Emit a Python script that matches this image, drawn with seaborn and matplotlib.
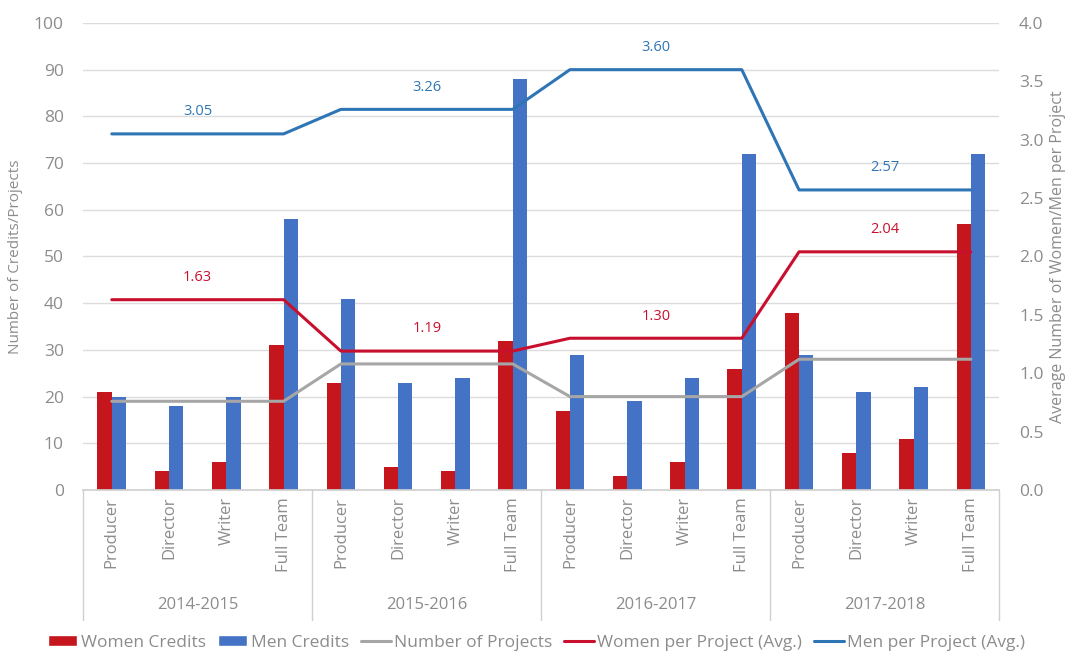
import numpy as np
import pandas as pd
import matplotlib
matplotlib.use("Agg")
import matplotlib.pyplot as plt
import matplotlib.transforms as mtransforms
from matplotlib.patches import Patch
from matplotlib.lines import Line2D
import seaborn as sns

# ---- data ----
seasons = ["2014-2015", "2015-2016", "2016-2017", "2017-2018"]
roles = ["Producer", "Director", "Writer", "Full Team"]
women_credits = [21, 4, 6, 31, 23, 5, 4, 32, 17, 3, 6, 26, 38, 8, 11, 57]
men_credits = [20, 18, 20, 58, 41, 23, 24, 88, 29, 19, 24, 72, 29, 21, 22, 72]
projects_per_season = [19, 27, 20, 28]
women_per_project = [1.63, 1.19, 1.30, 2.04]
men_per_project = [3.05, 3.26, 3.60, 2.57]

# ---- styling ----
RED = "#C4161C"
BLUE = "#4472C4"
LINE_RED = "#C8102E"
LINE_BLUE = "#2E75B6"
GRAY_LINE = "#A6A6A6"
TEXT = "#8C8C8C"
GRID = "#DCDCDC"

sns.set_theme(style="white")
plt.rcParams["font.family"] = ["Open Sans", "DejaVu Sans"]

n_roles = len(roles)
keys = [f"{s}|{r}" for s in seasons for r in roles]
df = pd.DataFrame({
    "key": keys * 2,
    "value": women_credits + men_credits,
    "series": ["Women Credits"] * len(keys) + ["Men Credits"] * len(keys),
})

fig = plt.figure(figsize=(10.73, 6.56), dpi=100)
ax = fig.add_axes([0.0775, 0.253, 0.854, 0.712])

sns.barplot(data=df, x="key", y="value", hue="series", order=keys,
            hue_order=["Women Credits", "Men Credits"],
            palette=[RED, BLUE], width=0.5, saturation=1,
            linewidth=0, edgecolor="none",
            ax=ax, legend=False, zorder=2)

pos = np.arange(len(keys))
season_idx = np.repeat(np.arange(len(seasons)), n_roles)
proj_line = np.array(projects_per_season)[season_idx]
women_line = np.array(women_per_project)[season_idx]
men_line = np.array(men_per_project)[season_idx]

sns.lineplot(x=pos, y=proj_line, ax=ax, color=GRAY_LINE, linewidth=2.2, zorder=3)

ax.set_ylim(0, 100)
ax.set_xlim(-0.5, len(keys) - 0.5)
ax.set_yticks(np.arange(0, 101, 10))
ax.yaxis.grid(True, color=GRID, linewidth=1)
ax.set_axisbelow(True)
for side in ["top", "right", "left"]:
    ax.spines[side].set_visible(False)
ax.spines["bottom"].set_color("#D0D0D0")
ax.tick_params(axis="y", length=0, labelsize=12.5, colors=TEXT, pad=14)
ax.tick_params(axis="x", length=0, labelsize=12, colors=TEXT, pad=5)
ax.set_xticks(pos)
ax.set_xticklabels([r for s in seasons for r in roles], rotation=90)
ax.set_xlabel("")
ax.set_ylabel("Number of Credits/Projects", fontsize=11, color=TEXT, labelpad=8)

# secondary axis for per-project averages
ax2 = ax.twinx()
sns.lineplot(x=pos, y=women_line, ax=ax2, color=LINE_RED, linewidth=2.2)
sns.lineplot(x=pos, y=men_line, ax=ax2, color=LINE_BLUE, linewidth=2.2)
ax2.set_ylim(0, 4)
ax2.set_yticks(np.arange(0, 4.01, 0.5))
ax2.set_yticklabels([f"{v:.1f}" for v in np.arange(0, 4.01, 0.5)])
ax2.tick_params(axis="y", length=0, labelsize=12.5, colors=TEXT, pad=14)
for side in ["top", "right", "left", "bottom"]:
    ax2.spines[side].set_visible(False)
ax2.set_ylabel("Average Number of Women/Men per Project", fontsize=11.5,
               color=TEXT, labelpad=5)
ax2.grid(False)

# value labels centred over each season
for i in range(len(seasons)):
    cx = i * n_roles + (n_roles - 1) / 2
    ax2.annotate(f"{women_per_project[i]:.2f}", (cx, women_per_project[i]),
                 xytext=(0, 16), textcoords="offset points", ha="center",
                 va="center", fontsize=10.5, color=LINE_RED)
    ax2.annotate(f"{men_per_project[i]:.2f}", (cx, men_per_project[i]),
                 xytext=(0, 16), textcoords="offset points", ha="center",
                 va="center", fontsize=10.5, color=LINE_BLUE)

# season group labels and separators below the role labels
trans = mtransforms.blended_transform_factory(ax.transData, ax.transAxes)
for b in np.arange(len(seasons) + 1) * n_roles - 0.5:
    ax.add_line(Line2D([b, b], [0, -0.279], transform=trans, color="#D0D0D0",
                       linewidth=1, clip_on=False))
for i, s in enumerate(seasons):
    ax.text(i * n_roles + (n_roles - 1) / 2, -0.247, s, transform=trans,
            ha="center", va="center", fontsize=12, color=TEXT)

handles = [
    Patch(facecolor=RED, label="Women Credits"),
    Patch(facecolor=BLUE, label="Men Credits"),
    Line2D([], [], color=GRAY_LINE, linewidth=2.2, label="Number of Projects"),
    Line2D([], [], color=LINE_RED, linewidth=2.2, label="Women per Project (Avg.)"),
    Line2D([], [], color=LINE_BLUE, linewidth=2.2, label="Men per Project (Avg.)"),
]
leg = fig.legend(handles=handles, loc="center", bbox_to_anchor=(0.5, 0.02),
                 ncol=5, frameon=False, fontsize=12.5, handlelength=1.7,
                 handleheight=0.6, handletextpad=0.2, columnspacing=0.7)
for t in leg.get_texts():
    t.set_color(TEXT)

fig.savefig("out.png", dpi=100, facecolor="white")
